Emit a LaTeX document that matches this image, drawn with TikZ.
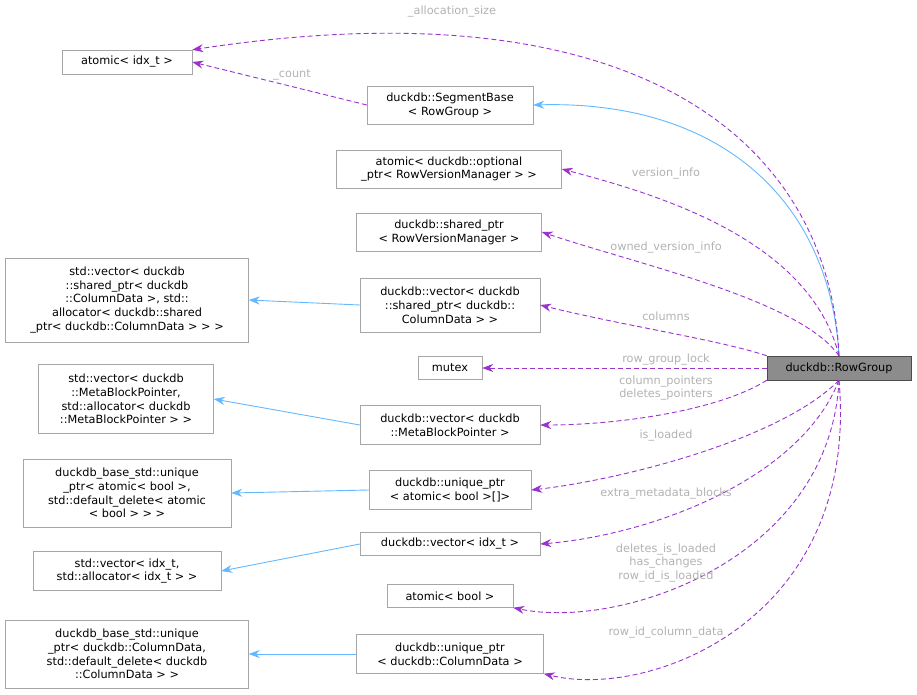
\documentclass[tikz,border=0pt]{standalone}
\usepackage{fontspec}
\setmainfont{DejaVu Sans}
\usetikzlibrary{arrows.meta}
\definecolor{memcol}{HTML}{9A32CD}
\definecolor{inhcol}{HTML}{63B8FF}
\tikzset{>={Stealth[length=11pt,width=8pt]}}
\newcommand{\lt}{\textless}
\newcommand{\gt}{\textgreater}
\tikzstyle{cls}=[rectangle,draw=black!35,fill=white,align=center,inner sep=2pt,font=\fontsize{11.3}{13.8}\selectfont]
\tikzstyle{cur}=[cls,fill=black!45,draw=black!70]
\tikzstyle{usage}=[->,dashed,draw=memcol,color=memcol,line width=0.9pt,dash pattern=on 5pt off 3pt]
\tikzstyle{inherit}=[->,draw=inhcol,color=inhcol,line width=0.9pt]
\tikzstyle{lbl}=[text=black!30,align=center,font=\fontsize{11.3}{13.8}\selectfont]

\begin{document}
\begin{tikzpicture}[x=1pt,y=-1pt]
\useasboundingbox (0,0) rectangle (917,695);

\node[cls,minimum width=130pt,minimum height=24pt] (aidx) at (127,62) {atomic\lt{} idx\_t \gt};
\node[cls,minimum width=166pt,minimum height=38pt] (seg) at (450,105) {duckdb::SegmentBase\\\lt{} RowGroup \gt};
\node[cls,minimum width=225pt,minimum height=38pt] (opt) at (449,169) {atomic\lt{} duckdb::optional\\\_ptr\lt{} RowVersionManager \gt{} \gt};
\node[cls,minimum width=185pt,minimum height=38pt] (shr) at (449,232) {duckdb::shared\_ptr\\\lt{} RowVersionManager \gt};
\node[cls,minimum width=243pt,minimum height=84pt] (stdcol) at (127,300) {std::vector\lt{} duckdb\\::shared\_ptr\lt{} duckdb\\::ColumnData \gt, std::\\allocator\lt{} duckdb::shared\\\_ptr\lt{} duckdb::ColumnData \gt{} \gt{} \gt};
\node[cls,minimum width=180pt,minimum height=54pt] (veccol) at (450,305) {duckdb::vector\lt{} duckdb\\::shared\_ptr\lt{} duckdb::\\ColumnData \gt{} \gt};
\node[cls,minimum width=64pt,minimum height=23pt] (mtx) at (450,368) {mutex};
\node[cur,minimum width=144pt,minimum height=24pt] (rg) at (839,368) {duckdb::RowGroup};
\node[cls,minimum width=175pt,minimum height=69pt] (stdmbp) at (126,399) {std::vector\lt{} duckdb\\::MetaBlockPointer,\\ std::allocator\lt{} duckdb\\::MetaBlockPointer \gt{} \gt};
\node[cls,minimum width=180pt,minimum height=39pt] (vecmbp) at (450,425) {duckdb::vector\lt{} duckdb\\::MetaBlockPointer \gt};
\node[cls,minimum width=208pt,minimum height=68pt] (baseab) at (127,493) {duckdb\_base\_std::unique\\\_ptr\lt{} atomic\lt{} bool \gt,\\ std::default\_delete\lt{} atomic\\\lt{} bool \gt{} \gt{} \gt};
\node[cls,minimum width=162pt,minimum height=39pt] (uab) at (450,490) {duckdb::unique\_ptr\\\lt{} atomic\lt{} bool \gt[]\gt};
\node[cls,minimum width=188pt,minimum height=39pt] (stdidx) at (127,571) {std::vector\lt{} idx\_t,\\ std::allocator\lt{} idx\_t \gt{} \gt};
\node[cls,minimum width=180pt,minimum height=23pt] (vecidx) at (450,544) {duckdb::vector\lt{} idx\_t \gt};
\node[cls,minimum width=126pt,minimum height=23pt] (abool) at (450,596) {atomic\lt{} bool \gt};
\node[cls,minimum width=243pt,minimum height=68pt] (basecd) at (127,654) {duckdb\_base\_std::unique\\\_ptr\lt{} duckdb::ColumnData,\\ std::default\_delete\lt{} duckdb\\::ColumnData \gt{} \gt};
\node[cls,minimum width=187pt,minimum height=39pt] (ucd) at (450,654) {duckdb::unique\_ptr\\\lt{} duckdb::ColumnData \gt};

% inheritance
\draw[inherit] (rg.north) .. controls (830,200) and (720,100) .. (seg.east);
\draw[inherit] (veccol.west) -- (stdcol.east);
\draw[inherit] (vecmbp.west) -- (stdmbp.east);
\draw[inherit] (uab.west) -- (baseab.east);
\draw[inherit] (vecidx.west) -- (stdidx.east);
\draw[inherit] (ucd.west) -- (basecd.east);

% members
\draw[usage] (rg.north) .. controls (830,150) and (650,-20) .. (aidx.north east);
\draw[usage] (seg.west) -- (aidx.east);
\draw[usage] (rg.north) .. controls (810,240) and (660,195) .. (opt.east);
\draw[usage] (rg.north) .. controls (800,300) and (640,265) .. (shr.east);
\draw[usage] (rg.north west) .. controls (720,340) and (620,325) .. (veccol.east);
\draw[usage] (rg.west) -- (mtx.east);
\draw[usage] (rg.south west) .. controls (720,410) and (620,425) .. (vecmbp.east);
\draw[usage] (rg.south) .. controls (780,440) and (620,480) .. (uab.east);
\draw[usage] (rg.south) .. controls (800,480) and (650,535) .. (vecidx.east);
\draw[usage] (rg.south) .. controls (830,560) and (620,630) .. (abool.south east);
\draw[usage] (rg.south) .. controls (860,620) and (650,700) .. (ucd.south east);

\node[lbl] (l1) at (452,12) {\_allocation\_size};
\node[lbl] (l2) at (292,75) {\_count};
\node[lbl] (l3) at (666,174) {version\_info};
\node[lbl] (l4) at (666,248) {owned\_version\_info};
\node[lbl] (l5) at (666,316) {columns};
\node[lbl] (l6) at (666,360) {row\_group\_lock};
\node[lbl] (l7) at (666,388) {column\_pointers\\deletes\_pointers};
\node[lbl] (l8) at (666,436) {is\_loaded};
\node[lbl] (l9) at (666,494) {extra\_metadata\_blocks};
\node[lbl] (l10) at (666,563) {deletes\_is\_loaded\\has\_changes\\row\_id\_is\_loaded};
\node[lbl] (l11) at (666,633) {row\_id\_column\_data};
\end{tikzpicture}
\end{document}
